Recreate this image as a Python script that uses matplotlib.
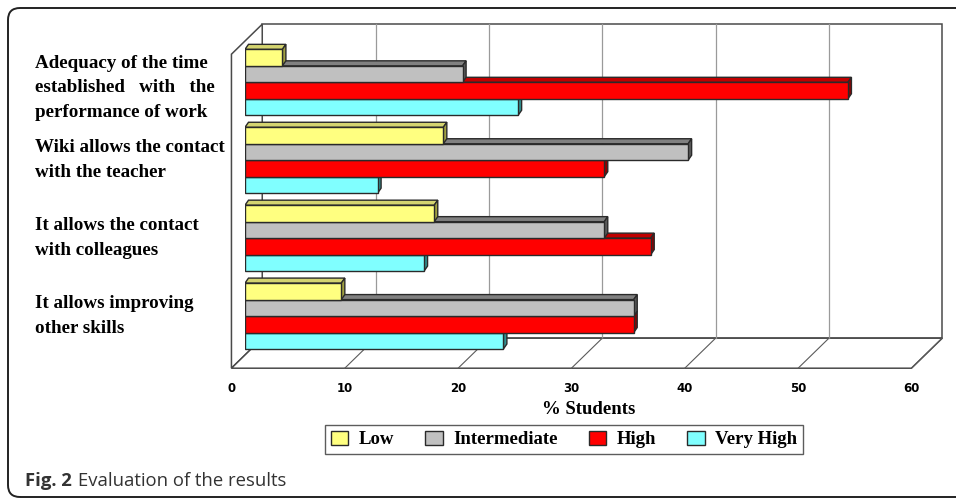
import numpy as np
import matplotlib
matplotlib.use("Agg")
from matplotlib import pyplot
from matplotlib import transforms as mtransforms
from matplotlib.patches import Polygon, FancyBboxPatch

categories = [
    "Adequacy of the time\nestablished   with   the\nperformance of work",
    "Wiki allows the contact\nwith the teacher",
    "It allows the contact\nwith colleagues",
    "It allows improving\nother skills",
]
series = ["Low", "Intermediate", "High", "Very High"]
low = [3.3, 17.5, 16.7, 8.5]
intermediate = [19.2, 39.1, 31.7, 34.3]
high = [53.2, 31.7, 35.8, 34.3]
very_high = [24.1, 11.7, 15.8, 22.8]
values = [low, intermediate, high, very_high]
xticks = [0, 10, 20, 30, 40, 50, 60]

front_colors = ["#FFFF80", "#C0C0C0", "#FF0000", "#80FFFF"]
top_colors = ["#D4D470", "#808080", "#C00000", "#60C0C0"]
side_colors = ["#A0A040", "#5A5A5A", "#900000", "#309090"]
edge = "#2a2a2a"

W, H = 956, 499
fig = pyplot.figure(figsize=(W / 100, H / 100), dpi=100)
# pixel transform for the page furniture (origin bottom-left)
px = mtransforms.Affine2D().scale(1 / W, 1 / H) + fig.transFigure

# axes span the plane in which the bars sit
ax = fig.add_axes([245 / W, 1 - 355 / H, 680 / W, 314 / H])
ax.set_xlim(0, 60)
ax.set_ylim(3.5, -0.53)
ax.axis("off")

# depth vector of the 3-D box (pixels, right/up) converted to data units
p0 = ax.transData.transform((0, 0))
ddx, ddy = ax.transData.inverted().transform(p0 + np.array([30.8, 30.0]))
FRONT, BACK = -0.44, 0.56
# depth vector of a single bar
bdx, bdy = ax.transData.inverted().transform(p0 + np.array([3.5, 5.0]))

y0, y1 = 3.5, -0.53


def at(x, y, k):
    return (x + k * ddx, y + k * ddy)


wall_kw = dict(facecolor="white", edgecolor="#4a4a4a", linewidth=1.1,
               clip_on=False, zorder=0.5, joinstyle="miter")
# back wall
ax.add_patch(Polygon([at(0, y0, BACK), at(60, y0, BACK),
                      at(60, y1, BACK), at(0, y1, BACK)], **wall_kw))
# left wall
ax.add_patch(Polygon([at(0, y0, FRONT), at(0, y0, BACK),
                      at(0, y1, BACK), at(0, y1, FRONT)], **wall_kw))
# floor
ax.add_patch(Polygon([at(0, y0, FRONT), at(60, y0, FRONT),
                      at(60, y0, BACK), at(0, y0, BACK)], **wall_kw))

# gridlines on back wall and floor
for v in xticks[1:-1]:
    xs, ys = zip(at(v, y0, BACK), at(v, y1, BACK))
    ax.plot(xs, ys, color="#9a9a9a", lw=0.9, clip_on=False, zorder=1)
for v in xticks[1:]:
    xs, ys = zip(at(v, y0, FRONT), at(v, y0, BACK))
    ax.plot(xs, ys, color="#5a5a5a", lw=0.8, clip_on=False, zorder=1)

# bars: four series per category, the top bar drawn last
ypos = np.arange(len(categories))
bar_h = 16.45 / 77.8
handles = []
for j in range(len(series)):
    z = 5 + (len(series) - 1 - j)
    offs = (j - 1.5) * bar_h
    bars = ax.barh(ypos + offs, values[j], height=bar_h,
                   color=front_colors[j], edgecolor=edge, linewidth=1.0,
                   zorder=z, label=series[j])
    handles.append(bars)
    for rect in bars:
        x0 = rect.get_x()
        x1 = x0 + rect.get_width()
        yt = rect.get_y()
        yb = yt + rect.get_height()
        ax.add_patch(Polygon([(x0, yt), (x1, yt), (x1 + bdx, yt + bdy),
                              (x0 + bdx, yt + bdy)],
                             facecolor=top_colors[j], edgecolor=edge,
                             linewidth=1.0, zorder=z - 0.5))
        ax.add_patch(Polygon([(x1, yt), (x1, yb), (x1 + bdx, yb + bdy),
                              (x1 + bdx, yt + bdy)],
                             facecolor=side_colors[j], edgecolor=edge,
                             linewidth=1.0, zorder=z - 0.5))

# x tick labels along the front edge of the floor
tick_tf = mtransforms.offset_copy(ax.transData, fig, x=-13.6, y=-34,
                                  units="dots")
for v in xticks:
    ax.text(v, y0, str(v), transform=tick_tf, ha="center", va="center",
            fontsize=8.5, fontweight="bold", family="DejaVu Sans")

fig.text(589, H - 410, "% Students", transform=px, ha="center", va="center",
         fontsize=13.5, fontweight="bold", family="Liberation Serif")

# category labels at the left
lab_tf = mtransforms.blended_transform_factory(px, ax.transData)
lab_y = [0.07, 1, 2, 3]
for i, lab in enumerate(categories):
    ax.text(35, lab_y[i], lab, transform=lab_tf, ha="left", va="center",
            fontsize=13.7, fontweight="bold", family="Liberation Serif",
            linespacing=1.58, clip_on=False)

leg = fig.legend(handles=handles, labels=series, ncol=4,
                 loc="center", bbox_to_anchor=(564 / W, 1 - 439.5 / H),
                 prop=dict(family="Liberation Serif", weight="bold",
                           size=13.5),
                 frameon=True, fancybox=False, edgecolor="#333333",
                 handlelength=0.95, handleheight=0.85, handletextpad=0.55,
                 columnspacing=1.65, borderpad=0.3)
leg.get_frame().set_linewidth(1.0)

# caption
renderer = fig.canvas.get_renderer()
t1 = fig.text(25, H - 486, "Fig. 2", transform=px, ha="left", va="baseline",
              fontsize=13.3, fontweight="bold", family="Open Sans",
              color="#333333")
bb = t1.get_window_extent(renderer)
fig.text(bb.x1 + 6, H - 486, "Evaluation of the results", transform=px,
         ha="left", va="baseline", fontsize=13.3, family="Open Sans",
         color="#333333")

# rounded frame around the figure
fig.patches.append(FancyBboxPatch((8, 2), 1000, 489,
                                  boxstyle="round,pad=0,rounding_size=12",
                                  transform=px, facecolor="none",
                                  edgecolor="#222222", linewidth=1.4))

pyplot.savefig("out.png", dpi=100)
